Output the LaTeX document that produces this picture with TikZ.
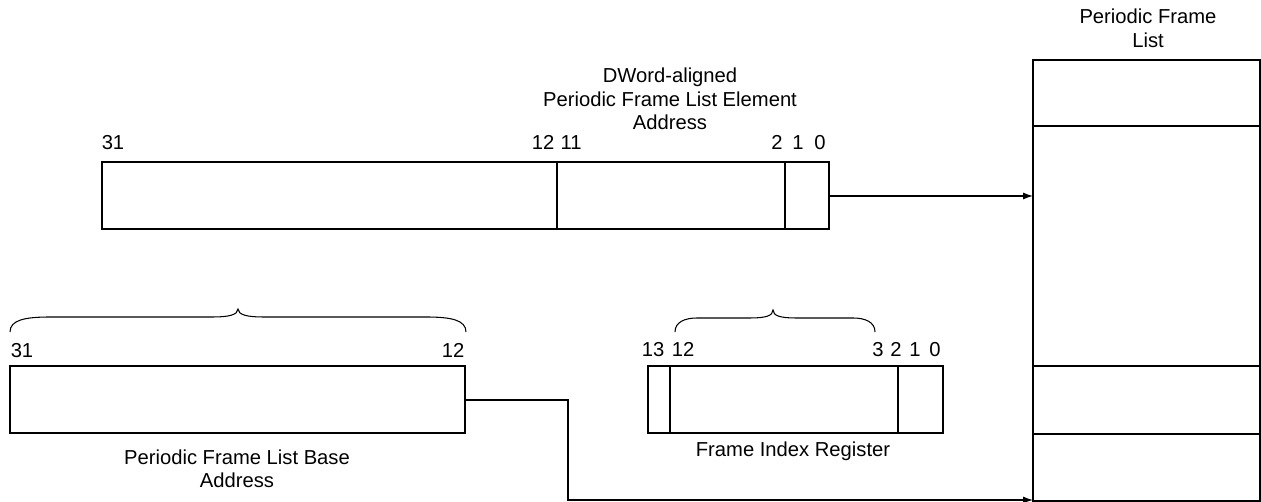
\documentclass[tikz,border=0pt]{standalone}
\usepackage{fontspec}
\setmainfont{Liberation Sans}
\usetikzlibrary{arrows.meta}

\begin{document}
\begin{tikzpicture}[x=0.02cm,y=-0.02cm,line width=0.6pt,>={Latex[length=2mm,width=1.4mm]},
  every node/.style={font=\fontsize{11.5}{13.4}\selectfont,inner sep=0pt,align=center}]
  \useasboundingbox (0,0) rectangle (1261,502);
  % element address register
  \coordinate (E1) at (102,162); \coordinate (E2) at (829,229);
  \draw (E1) rectangle (E2);
  \draw (557,162)--(557,229); \draw (785,162)--(785,229);
  \foreach \x/\t [count=\i] in {113/31,543/12,571/11,777/2,798/1,820/0}
    \node[anchor=base] (e\i) at (\x,150) {\t};
  \node (etitle) at (670,99) {DWord-aligned\\Periodic Frame List Element\\Address};
  % periodic frame list
  \coordinate (L1) at (1033,60); \coordinate (L2) at (1260,501);
  \draw (L1) rectangle (L2);
  \foreach \y in {126,366,434} \draw (1033,\y)--(1260,\y);
  \node (ltitle) at (1148,28.5) {Periodic Frame\\List};
  % base address register
  \coordinate (B1) at (10,366); \coordinate (B2) at (465,433);
  \draw (B1) rectangle (B2);
  \node[anchor=base] (b1) at (22,358) {31};
  \node[anchor=base] (b2) at (453,358) {12};
  \draw (10,332) .. controls (10,320) and (25,317) .. (50,317) -- (213,317)
    .. controls (228,317) and (238,315) .. (238,309)
    .. controls (238,315) and (248,317) .. (263,317) -- (426,317)
    .. controls (451,317) and (466,320) .. (466,332);
  \node (btitle) at (237,469) {Periodic Frame List Base\\Address};
  % frame index register
  \coordinate (R1) at (648,366); \coordinate (R2) at (943,433);
  \draw (R1) rectangle (R2);
  \draw (670,366)--(670,433); \draw (898,366)--(898,433);
  \foreach \x/\t [count=\i] in {653/13,683/12,878/3,896/2,915/1,935/0}
    \node[anchor=base] (r\i) at (\x,357) {\t};
  \draw (675,332) .. controls (675,322) and (685,318) .. (697,318) -- (750,318)
    .. controls (765,318) and (773,316) .. (773,310)
    .. controls (773,316) and (781,318) .. (796,318) -- (853,318)
    .. controls (865,318) and (875,322) .. (875,332);
  \node (rtitle) at (793,451) {Frame Index Register};
  % connectors
  \coordinate (Eo) at (829,196); \coordinate (Li) at (1033,196);
  \coordinate (Bo) at (465,400); \coordinate (Lb) at (1033,500);
  \draw[->] (Eo)--(Li);
  \draw[->] (Bo)-|(568,500)--(Lb);
\end{tikzpicture}
\end{document}
